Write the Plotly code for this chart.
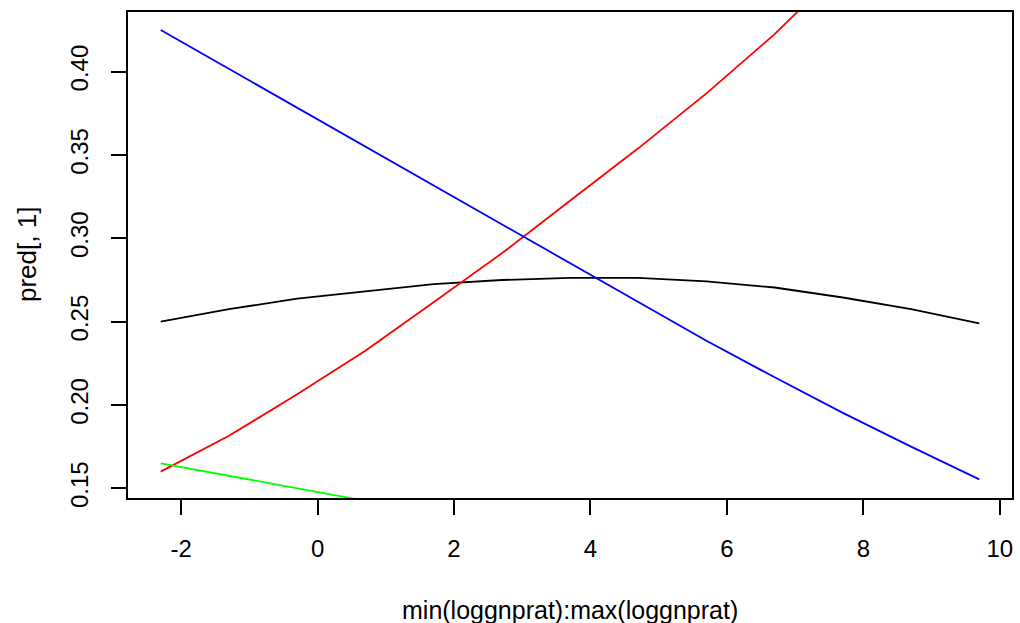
import plotly.graph_objects as go

# x values: min(loggnprat):max(loggnprat)
x_vals = [-2.3, -1.3, -0.3, 0.7, 1.7, 2.7, 3.7, 4.7, 5.7, 6.7, 7.7, 8.7, 9.7]

# predicted probabilities
pred_black = [0.250, 0.2575, 0.2638, 0.268, 0.2725, 0.2750, 0.2763, 0.2763, 0.2742, 0.2705, 0.2645, 0.2575, 0.249]
pred_red = [0.160, 0.1815, 0.2064, 0.2325, 0.2617, 0.291, 0.3225, 0.354, 0.387, 0.4225, 0.4625, 0.500, 0.540]
pred_blue = [0.425, 0.4017, 0.3784, 0.3551, 0.3318, 0.3085, 0.2852, 0.2617, 0.2385, 0.2166, 0.1953, 0.175, 0.1554]
pred_green = [0.165, 0.1575, 0.150, 0.1425, 0.134, 0.1255, 0.116, 0.108, 0.1003, 0.0904, 0.0777, 0.0675, 0.0556]

x_ticks = [-2, 0, 2, 4, 6, 8, 10]
x_tick_labels = ["-2", "0", "2", "4", "6", "8", "10"]
y_ticks = [0.15, 0.20, 0.25, 0.30, 0.35, 0.40]
y_tick_labels = ["0.15", "0.20", "0.25", "0.30", "0.35", "0.40"]

series = [
    (pred_black, "black"),
    (pred_red, "#FF0000"),
    (pred_blue, "#0000FF"),
    (pred_green, "#00FF00"),
]

FONT = "Liberation Sans, Arial, sans-serif"

fig = go.Figure()
for ys, col in series:
    fig.add_trace(go.Scatter(x=x_vals, y=ys, mode="lines",
                             line=dict(color=col, width=1.8),
                             showlegend=False, hoverinfo="skip"))

fig.update_layout(
    width=1020, height=623,
    margin=dict(l=128, r=6, t=12, b=125),
    paper_bgcolor="white", plot_bgcolor="white",
    font=dict(family=FONT, size=24, color="black"),
    xaxis=dict(range=[-2.78, 10.18], tickmode="array", tickvals=x_ticks,
               ticktext=x_tick_labels,
               ticks="outside", ticklen=15, tickwidth=1.5, tickcolor="black",
               showline=True, linecolor="black", linewidth=1.5, mirror=True,
               showgrid=False, zeroline=False, ticklabelstandoff=13),
    yaxis=dict(range=[0.1442, 0.4358], tickmode="array", tickvals=y_ticks,
               ticktext=y_tick_labels, tickangle=-90,
               ticks="outside", ticklen=15, tickwidth=1.5, tickcolor="black",
               showline=True, linecolor="black", linewidth=1.5, mirror=True,
               showgrid=False, zeroline=False, ticklabelstandoff=14),
    annotations=[
        dict(text="min(loggnprat):max(loggnprat)", xref="paper", yref="paper",
             x=0.5, y=0, yanchor="middle", xanchor="center", yshift=-112,
             showarrow=False, font=dict(family=FONT, size=25, color="black")),
        dict(text="pred[, 1]", xref="paper", yref="paper",
             x=0, y=0.5, xanchor="center", yanchor="middle", xshift=-101,
             textangle=-90, showarrow=False,
             font=dict(family=FONT, size=26, color="black")),
    ],
)

fig.write_html("out.html", config={"displayModeBar": False},
               post_script="document.body.style.margin='0';document.body.style.overflow='hidden';")
